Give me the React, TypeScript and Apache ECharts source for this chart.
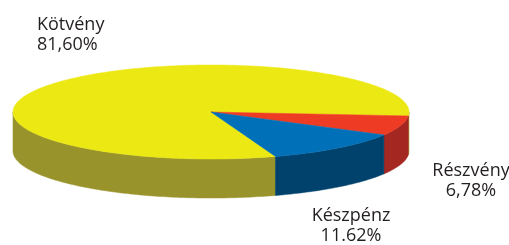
import React, { useEffect, useRef } from "react";
import * as echarts from "echarts";

const categories = ["Kötvény", "Részvény", "Készpénz"];
const values = [81.6, 6.78, 11.62];
const valueLabels = ["81,60%", "6,78%", "11.62%"];
const topColors = ["#ECE814", "#EE3B24", "#0070B8"];
const sideColors = ["#98932A", "#A52722", "#00426C"];

const CX = 211;
const CY = 112;
const RX = 198;
const RY = 47;
const DEPTH = 39;
const START = 71;

export default function App() {
  const ref = useRef<HTMLDivElement>(null);
  useEffect(() => {
    document.body.style.margin = "0";
    const chart = echarts.init(ref.current!, null, { renderer: "svg" });
    const total = values.reduce((a, b) => a + b, 0);
    const pt = (deg: number, dy: number) => {
      const r = (deg * Math.PI) / 180;
      return [CX + RX * Math.cos(r), CY + RY * Math.sin(r) + dy];
    };
    const arc = (a: number, b: number, dy: number) => {
      const n = Math.max(2, Math.ceil(b - a) + 1);
      const out: number[][] = [];
      for (let k = 0; k < n; k++) out.push(pt(a + ((b - a) * k) / (n - 1), dy));
      return out;
    };
    const txt = (text: string, x: number, y: number, align: string) => ({
      type: "text",
      x,
      y,
      silent: true,
      style: {
        text,
        fill: "#231F20",
        fontSize: 18,
        fontFamily: "'Open Sans', sans-serif",
        lineHeight: 18,
        align,
        textAlign: align,
        verticalAlign: "top",
        textVerticalAlign: "top",
      },
    });
    const label = (i: number, x: number, y: number, align: string) => [
      txt(categories[i], x, y, align),
      txt(valueLabels[i], x, y + 19.5, align),
    ];
    chart.setOption({
      animation: false,
      series: [
        {
          type: "custom",
          coordinateSystem: "none",
          silent: true,
          data: values.map((v, i) => ({ name: categories[i], value: v })),
          renderItem: (params: any, api: any) => {
            const i = params.dataIndex;
            let start = START;
            for (let k = 0; k < i; k++) start += (values[k] / total) * 360;
            const end = start + (api.value(0) / total) * 360;
            const children: any[] = [];
            for (const [lo, hi] of [
              [0, 180],
              [360, 540],
            ]) {
              const a = Math.max(start, lo);
              const b = Math.min(end, hi);
              if (b > a) {
                const top = arc(a, b, 0);
                const bot = arc(a, b, DEPTH).reverse();
                children.push({
                  type: "polygon",
                  shape: { points: top.concat(bot) },
                  style: { fill: sideColors[i], stroke: sideColors[i], lineWidth: 0.5 },
                  z2: 1,
                });
              }
            }
            children.push({
              type: "polygon",
              shape: { points: [[CX, CY], ...arc(start, end, 0)] },
              style: { fill: topColors[i], stroke: topColors[i], lineWidth: 0.5 },
              z2: 2,
            });
            return { type: "group", children };
          },
        },
      ],
      graphic: [
        ...label(0, 37, 14, "left"),
        ...label(1, 471, 160, "center"),
        ...label(2, 351, 205, "center"),
      ],
    });
    return () => chart.dispose();
  }, []);
  return (
    <div
      ref={ref}
      style={{ position: "fixed", left: 0, top: 0, width: 509, height: 245 }}
    />
  );
}
